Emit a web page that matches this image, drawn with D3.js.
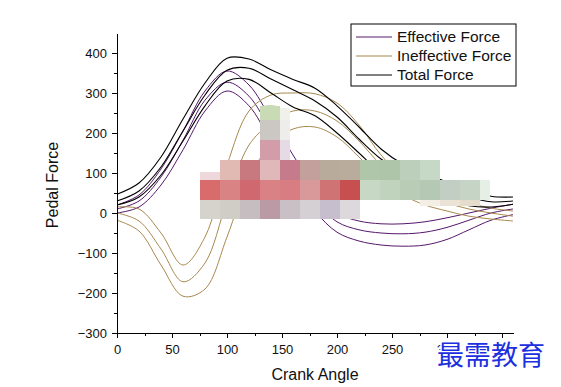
<!DOCTYPE html>
<html>
<head>
<meta charset="utf-8">
<script src="https://cdn.jsdelivr.net/npm/d3@7"></script>
<style>
  body { margin: 0; background: #fff; }
  text { font-family: "Liberation Sans", Arial, sans-serif; fill: #111; }
  .axis path, .axis line { stroke: #000; stroke-width: 1; shape-rendering: crispEdges; }
  .axis text { font-size: 13px; fill: #111; }
</style>
</head>
<body>
<svg id="chart" width="561" height="387"></svg>
<script>
const angles = [0, 20, 40, 60, 80, 100, 120, 140, 160, 180, 200, 220, 240, 260, 280, 300, 320, 340, 360];

// effective force: upper, mean, lower
const effHigh = [20, 45, 110, 205, 305, 355, 320, 235, 145, 60, 0, -20, -27, -27, -22, -12, 0, 12, 22];
const effMean = [10, 30, 90, 182, 282, 327, 292, 205, 115, 32, -22, -42, -50, -52, -48, -36, -18, 0, 10];
const effLow = [0, 15, 70, 158, 255, 305, 268, 178, 88, 5, -48, -70, -80, -83, -80, -66, -42, -18, -4];

// ineffective force
const ineffHigh = [15, 10, -50, -130, -60, 120, 255, 295, 300, 298, 275, 220, 145, 90, 60, 40, 25, 12, 5];
const ineffMean = [0, -20, -90, -172, -125, 30, 170, 225, 255, 255, 230, 180, 120, 75, 45, 25, 10, 0, -8];
const ineffLow = [-18, -45, -130, -208, -190, -60, 90, 170, 210, 215, 190, 140, 85, 45, 20, 5, -8, -15, -20];

// total force
const totalHigh = [47, 75, 140, 235, 325, 387, 385, 358, 334, 312, 268, 215, 160, 122, 98, 78, 58, 42, 40];
const totalMean = [30, 55, 115, 205, 295, 357, 362, 335, 308, 280, 240, 185, 135, 102, 80, 60, 40, 28, 30];
const totalLow = [20, 40, 95, 180, 268, 330, 334, 300, 265, 243, 200, 150, 100, 72, 52, 32, 18, 15, 22];

const xTicks = [0, 50, 100, 150, 200, 250, 300, 350];
const xMinor = [25, 75, 125, 175, 225, 275, 325];
const yTicks = [-300, -200, -100, 0, 100, 200, 300, 400];
const yMinor = [-250, -150, -50, 50, 150, 250, 350];

const seriesNames = ["Effective Force", "Ineffective Force", "Total Force"];
const seriesColors = ["#56186b", "#a8894f", "#000000"];

// pixelated blur patch over the middle of the plot: [col, row, colour, top offset, height, width]
const mosaic = [
  [3, 0, "#c9dbb5", 6, 14], [4, 0, "#f1f1ec", 8, 12, 10], [3, 1, "#cbc7c3"], [4, 1, "#efedeb", 0, 20, 10],
  [3, 2, "#d29ca8"], [4, 2, "#e6dbe5", 0, 20, 10],
  [0, 3, "#eed8dc", 12, 8], [1, 3, "#e0bab3"], [2, 3, "#c8797f"], [3, 3, "#e0b8ba"], [4, 3, "#c57b8c"], [5, 3, "#c4a09c"],
  [6, 3, "#b9ab9b"], [7, 3, "#b9ac9c"], [8, 3, "#afc6a8"], [9, 3, "#afc5aa"], [10, 3, "#bbcfbb"], [11, 3, "#c6d8c6"],
  [0, 4, "#d86c6d"], [1, 4, "#d98385"], [2, 4, "#d0696f"], [3, 4, "#d98184"], [4, 4, "#d87d81"], [5, 4, "#d99899"],
  [6, 4, "#d07375"], [7, 4, "#c84f50"], [8, 4, "#c7d9c5"], [9, 4, "#c0d3bd"], [10, 4, "#b8ccb6"], [11, 4, "#b5c8b4"],
  [12, 4, "#c2cdc4"], [13, 4, "#c5d4c5"], [14, 4, "#e6efe6", 0, 20, 10],
  [0, 5, "#d5d4cc", 0, 19], [1, 5, "#d0ccc6", 0, 19], [2, 5, "#c5bdc0", 0, 19], [3, 5, "#b99aa5", 0, 19],
  [4, 5, "#c8c0c4", 0, 19], [5, 5, "#d4d0d4", 0, 19], [6, 5, "#c6becc", 0, 19], [7, 5, "#dcd8dc", 0, 19],
  [11, 5, "#f3efe4", 0, 6], [12, 5, "#ebe3d6", 0, 6], [13, 5, "#e6dccd", 0, 6]
];

const width = 561, height = 387;
const margin = { left: 117, right: 48, top: 33, bottom: 54 };

const svg = d3.select("#chart");

const x = d3.scaleLinear().domain([0, 360]).range([margin.left, width - margin.right]);
const y = d3.scaleLinear().domain([-300, 450]).range([height - margin.bottom, margin.top]);

const line = d3.line()
  .x(d => x(d[0]))
  .y(d => y(d[1]))
  .curve(d3.curveCatmullRom.alpha(0.5));

const groups = [
  [effHigh, effMean, effLow],
  [ineffHigh, ineffMean, ineffLow],
  [totalHigh, totalMean, totalLow]
];

// lines
groups.forEach((set, i) => {
  set.forEach(vals => {
    svg.append("path")
      .datum(angles.map((a, k) => [a, vals[k]]))
      .attr("fill", "none")
      .attr("stroke", seriesColors[i])
      .attr("stroke-width", i === 2 ? 1.1 : 1)
      .attr("d", line);
  });
});

// mosaic patch
const cell = 20, ox = 200, oy = 100;
svg.append("g").selectAll("rect")
  .data(mosaic)
  .enter()
  .append("rect")
  .attr("x", d => ox + d[0] * cell)
  .attr("y", d => oy + d[1] * cell + (d[3] || 0))
  .attr("width", d => d[5] || cell)
  .attr("height", d => d[4] || cell)
  .attr("fill", d => d[2]);
// rounded top of the green cell
svg.append("rect").attr("x", ox + 3 * cell).attr("y", oy + 5).attr("width", cell).attr("height", 12)
  .attr("rx", 8).attr("fill", "#c9dbb5");

// axes
const axisX = svg.append("g").attr("class", "axis")
  .attr("transform", `translate(0,${height - margin.bottom})`);
axisX.call(d3.axisBottom(x).tickValues(xTicks).tickSize(5).tickSizeOuter(0).tickPadding(7));
axisX.append("g").call(d3.axisBottom(x).tickValues(xMinor).tickSize(3).tickFormat(""))
  .select(".domain").remove();

const axisY = svg.append("g").attr("class", "axis")
  .attr("transform", `translate(${margin.left},0)`);
axisY.call(d3.axisLeft(y).tickValues(yTicks).tickSize(5).tickSizeOuter(0).tickPadding(5));
axisY.append("g").call(d3.axisLeft(y).tickValues(yMinor).tickSize(3).tickFormat(""))
  .select(".domain").remove();

// axis titles
svg.append("text")
  .attr("x", 315)
  .attr("y", 380)
  .attr("text-anchor", "middle")
  .style("font-size", "16px")
  .text("Crank Angle");

svg.append("text")
  .attr("transform", "translate(58,185) rotate(-90)")
  .attr("text-anchor", "middle")
  .style("font-size", "16px")
  .text("Pedal Force");

// legend
const legend = svg.append("g").attr("transform", "translate(351,24)");
legend.append("rect")
  .attr("width", 165)
  .attr("height", 62)
  .attr("fill", "#fff")
  .attr("stroke", "#000")
  .attr("stroke-width", 1);

const item = legend.selectAll(".item")
  .data(seriesNames)
  .enter()
  .append("g")
  .attr("class", "item")
  .attr("transform", (d, i) => `translate(0,${13 + i * 19})`);

item.append("line")
  .attr("x1", 5).attr("x2", 41)
  .attr("stroke", (d, i) => seriesColors[i])
  .attr("stroke-width", 1);

item.append("text")
  .attr("x", 46)
  .attr("dy", "0.35em")
  .style("font-size", "15.5px")
  .text(d => d);

// watermark
svg.append("text")
  .attr("x", 437)
  .attr("y", 365)
  .style("font-family", "'Noto Sans CJK SC', sans-serif")
  .style("font-size", "27px")
  .style("fill", "#1c30e0")
  .attr("stroke", "#fff")
  .attr("stroke-width", 3)
  .attr("paint-order", "stroke")
  .text("最需教育");
</script>
</body>
</html>
